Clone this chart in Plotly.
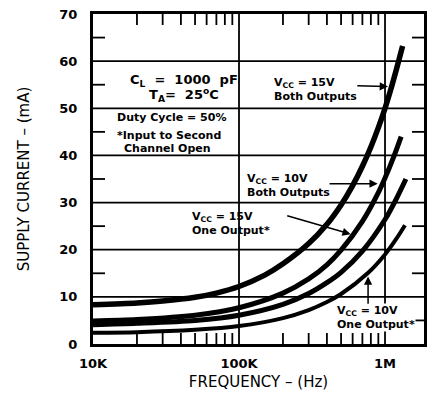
import math
import plotly.graph_objects as go

# Data (frequency in Hz, supply current in mA)
freq_15v_both = [1e4, 2e4, 3e4, 5e4, 7e4, 1e5, 1.5e5, 2e5, 3e5, 4e5, 5e5, 6e5, 7e5, 8e5, 9e5, 1e6, 1.1e6, 1.2e6, 1.32e6]
curr_15v_both = [8.3, 8.7, 9.1, 9.9, 10.8, 12.2, 14.6, 17.0, 21.3, 25.4, 29.5, 33.6, 37.7, 41.8, 45.9, 50.0, 54.2, 58.4, 63.2]

freq_10v_both = [1e4, 2e4, 5e4, 1e5, 2e5, 3e5, 4e5, 5e5, 7e5, 9e5, 1e6, 1.15e6, 1.29e6]
curr_10v_both = [4.9, 5.2, 6.1, 7.7, 10.8, 13.8, 16.8, 19.9, 26.0, 32.1, 35.2, 39.8, 44.0]

freq_15v_one = [1e4, 2e4, 5e4, 1e5, 2e5, 3e5, 4e5, 5e5, 7e5, 1e6, 1.2e6, 1.39e6]
curr_15v_one = [4.1, 4.4, 5.0, 6.1, 8.4, 10.7, 13.0, 15.2, 19.7, 26.4, 30.9, 35.0]

freq_10v_one = [1e4, 2e4, 5e4, 1e5, 2e5, 3e5, 4e5, 5e5, 7.6e5, 1e6, 1.2e6, 1.37e6]
curr_10v_one = [2.4, 2.5, 3.0, 3.8, 5.5, 7.2, 8.9, 10.6, 15.0, 19.0, 22.4, 25.2]

x_tickvals = [1e4, 1e5, 1e6]
x_ticktext = ["10K", "100K", "1M"]
x_minor = [2e4, 3e4, 4e4, 5e4, 6e4, 7e4, 8e4, 9e4,
           2e5, 3e5, 4e5, 5e5, 6e5, 7e5, 8e5, 9e5]
y_tickvals = [0, 10, 20, 30, 40, 50, 60, 70]
y_minor = [5, 15, 25, 35, 45, 55, 65]

FONT = "DejaVu Sans"
X_RANGE = [4, 6.267]
Y_RANGE = [0, 70]
W, H = 436, 404
MARGIN = dict(l=85, r=20, t=6, b=68)
PLOT_W = W - MARGIN["l"] - MARGIN["r"]
PLOT_H = H - MARGIN["t"] - MARGIN["b"]

def xfrac(v):
    return (math.log10(v) - X_RANGE[0]) / (X_RANGE[1] - X_RANGE[0])

def yfrac(v):
    return (v - Y_RANGE[0]) / (Y_RANGE[1] - Y_RANGE[0])

fig = go.Figure()
for xs, ys, w in [(freq_15v_both, curr_15v_both, 5.5),
                  (freq_10v_both, curr_10v_both, 5),
                  (freq_15v_one, curr_15v_one, 5),
                  (freq_10v_one, curr_10v_one, 4)]:
    fig.add_trace(go.Scatter(x=xs, y=ys, mode="lines",
                             line=dict(color="black", width=w, shape="spline", smoothing=0.8),
                             showlegend=False, hoverinfo="skip"))

GRID = dict(color="black", width=1.8)
TICK = dict(color="black", width=1.8)
# grid lines at the major values
for v in x_tickvals[1:]:
    f = xfrac(v)
    fig.add_shape(type="line", xref="paper", yref="paper", x0=f, x1=f, y0=0, y1=1,
                  line=GRID, layer="below")
for v in y_tickvals[1:-1]:
    f = yfrac(v)
    fig.add_shape(type="line", xref="paper", yref="paper", x0=0, x1=1, y0=f, y1=f,
                  line=GRID, layer="below")
# inside minor ticks on all four sides
XT = 11 / PLOT_H
YT = 12 / PLOT_W
for v in x_minor:
    f = xfrac(v)
    for a, b in [(0, XT), (1, 1 - XT)]:
        fig.add_shape(type="line", xref="paper", yref="paper",
                      x0=f, x1=f, y0=a, y1=b, line=TICK, layer="below")
for v in y_minor:
    f = yfrac(v)
    for a, b in [(0, YT), (1, 1 - YT)]:
        fig.add_shape(type="line", xref="paper", yref="paper",
                      y0=f, y1=f, x0=a, x1=b, line=TICK, layer="below")

def label(x, y, text, xanchor="left", bg=None, size=11):
    fig.add_annotation(x=x, y=y, xref="x", yref="y", text=text, showarrow=False,
                       xanchor=xanchor, yanchor="middle", align="left",
                       font=dict(family=FONT, size=size, color="black", weight="bold"),
                       bgcolor=bg, borderpad=0)

def arrow(x0, y0, x1, y1):
    fig.add_annotation(x=x1, y=y1, ax=x0, ay=y0, xref="x", yref="y", axref="x", ayref="y",
                       text="", showarrow=True, arrowhead=2, arrowsize=1.1,
                       arrowwidth=1.5, arrowcolor="black", standoff=0, startstandoff=0)

# Conditions block
label(4.245, 55.9, "C<sub>L</sub>&nbsp; =&nbsp; 1000&nbsp; pF", size=13)
label(4.378, 52.8, "T<sub>A</sub>=&nbsp; 25<sup>o</sup>C", size=13)
label(4.158, 48.0, "Duty Cycle = 50%")
label(4.158, 44.2, "*Input to Second")
label(4.205, 41.5, "Channel Open")

# Curve labels
label(5.233, 54.0, "V<sub>CC</sub> = 15V<br>Both Outputs")
label(5.048, 33.6, "V<sub>CC</sub> = 10V<br>Both Outputs")
label(4.671, 25.6, "V<sub>CC</sub> = 15V<br>One Output*")
label(5.664, 5.6, "V<sub>CC</sub> = 10V<br>One Output*", bg="white")

# Arrows
arrow(5.80, 54.8, 6.02, 54.6)
arrow(5.61, 34.0, 5.95, 34.0)
arrow(5.32, 27.3, 5.765, 23.3)
arrow(5.884, 8.2, 5.884, 14.3)

fig.update_layout(
    width=W, height=H, margin=MARGIN,
    paper_bgcolor="white", plot_bgcolor="white",
    xaxis=dict(type="log", range=X_RANGE, automargin=False,
               tickmode="array", tickvals=x_tickvals, ticktext=x_ticktext,
               ticks="", showgrid=False, zeroline=False,
               showline=True, linecolor="black", linewidth=3, mirror=True,
               tickfont=dict(family=FONT, size=13, color="black", weight="bold"),
               ticklabelstandoff=5, ticklabeloverflow="allow",
               title=dict(text="FREQUENCY \u2013 (Hz)", standoff=7,
                          font=dict(family=FONT, size=15, color="black"))),
    yaxis=dict(range=Y_RANGE, automargin=False,
               tickmode="array", tickvals=y_tickvals,
               ticks="", showgrid=False, zeroline=False,
               showline=True, linecolor="black", linewidth=3, mirror=True,
               tickfont=dict(family=FONT, size=13, color="black", weight="bold"),
               ticklabelstandoff=10, ticklabeloverflow="allow",
               title=dict(text="SUPPLY CURRENT \u2013 (mA)", standoff=27,
                          font=dict(family=FONT, size=15, color="black"))),
)

fig.write_html("out.html")
